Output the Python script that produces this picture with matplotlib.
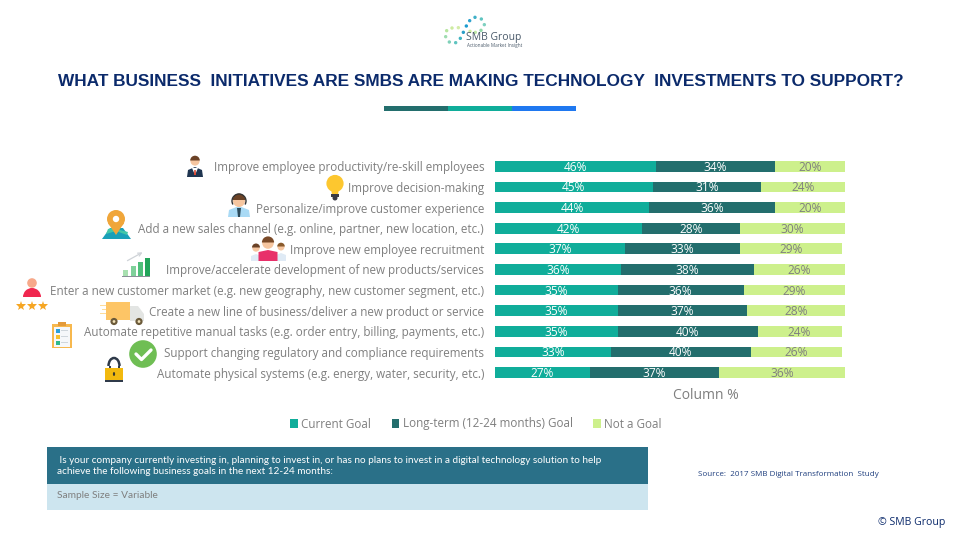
import matplotlib
matplotlib.use("Agg")
import matplotlib.pyplot as plt
from matplotlib.patches import Rectangle, Circle, Polygon, Wedge, Ellipse, Arc

categories = [
    "Improve employee productivity/re-skill employees",
    "Improve decision-making",
    "Personalize/improve customer experience",
    "Add a new sales channel (e.g. online, partner, new location, etc.)",
    "Improve new employee recruitment",
    "Improve/accelerate development of new products/services",
    "Enter a new customer market (e.g. new geography, new customer segment, etc.)",
    "Create a new line of business/deliver a new product or service",
    "Automate repetitive manual tasks (e.g. order entry, billing, payments, etc.)",
    "Support changing regulatory and compliance requirements",
    "Automate physical systems (e.g. energy, water, security, etc.)",
]
current_goal = [46, 45, 44, 42, 37, 36, 35, 35, 35, 33, 27]
long_term_goal = [34, 31, 36, 28, 33, 38, 36, 37, 40, 40, 37]
not_a_goal = [20, 24, 20, 30, 29, 26, 29, 28, 24, 26, 36]
series_names = ["Current Goal", "Long-term (12-24 months) Goal", "Not a Goal"]

TITLE = "WHAT BUSINESS  INITIATIVES ARE SMBS ARE MAKING TECHNOLOGY  INVESTMENTS TO SUPPORT?"
QUESTION = (" Is your company currently investing in, planning to invest in, or has no plans to invest in a digital technology solution to help\n"
            "achieve the following business goals in the next 12-24 months:")

C1, C2, C3 = "#10ad9a", "#236e6d", "#cdf08c"
GREY = "#7f7f7f"
NAVY = "#0b2a6b"
FONT = "Open Sans"

W, H = 960, 540
fig = plt.figure(figsize=(9.6, 5.4), dpi=100, facecolor="white")

# overlay in pixel coordinates for the slide decoration
ov = fig.add_axes([0, 0, 1, 1], zorder=0)
ov.set_xlim(0, W); ov.set_ylim(H, 0); ov.axis("off")

# chart axes
top, bottom = 156.0, 382.9
ax = fig.add_axes([495 / W, 1 - bottom / H, 350 / W, (bottom - top) / H], zorder=1)
ax.patch.set_alpha(0)
ax.set_xlim(0, 100)
ax.set_ylim(10.5, -0.5)
for s in ax.spines.values():
    s.set_visible(False)
ypos = list(range(len(categories)))
left = [0] * len(categories)
bars = []
for vals, col, name, tc in zip((current_goal, long_term_goal, not_a_goal), (C1, C2, C3), series_names,
                               ("white", "white", GREY)):
    b = ax.barh(ypos, vals, left=left, height=0.52, color=col, label=name)
    bars.append(b)
    for y, v, l in zip(ypos, vals, left):
        ax.text(l + v / 2, y + 0.05, f"{v}%", ha="center", va="center", color=tc,
                fontsize=8.6, family=FONT)
    left = [l + v for l, v in zip(left, vals)]
ax.set_yticks(ypos, categories)
ax.set_xticks([])
ax.tick_params(axis="y", length=0, pad=7.8, labelcolor=GREY, labelsize=8.42)
for t in ax.get_yticklabels():
    t.set_family(FONT)
ax.set_xlabel("Column %", color=GREY, fontsize=10, family=FONT, labelpad=5)
ax.xaxis.set_label_coords(211 / 350, -12.5 / (bottom - top), transform=ax.transAxes)
ax.xaxis.label.set_va("center")

leg = ax.legend(handles=[b[0] for b in bars], labels=series_names, ncols=3, frameon=False,
                loc="center left", bbox_to_anchor=(284.5 / W, 1 - 424 / H),
                bbox_transform=fig.transFigure, prop={"family": FONT, "size": 8.4},
                handlelength=0.64, handleheight=0.9, handletextpad=0.3, columnspacing=1.76,
                borderpad=0, labelcolor=GREY)

# title, logo, rule
ov.text(481, 81, TITLE, ha="center", va="center", fontsize=12.4, fontweight="bold",
        family="Liberation Sans", color=NAVY)
for x0, col in zip((384, 448, 512), (C2, C1, "#1f78f0")):
    ov.add_patch(Rectangle((x0, 106), 64, 4.5, color=col, lw=0))
logo_dots = [(285, 22, "#3fb0c8"), (304, 27, "#5fc4c0"), (269, 32, "#2ea3cf"), (313, 44, "#7fd0c0"),
             (259, 48, "#1d9cd0"), (303, 61, "#8fd8a8"), (250, 67, "#2a9fc8"), (200, 62, "#b8e6a0"),
             (216, 54, "#cdeba0"), (235, 53, "#d4eca8"), (197, 80, "#9fdcb0"), (241, 85, "#3fb4c0"),
             (208, 96, "#7fd0b8"), (227, 98, "#5fc4c0"), (270, 64, "#cdeba0"), (286, 67, "#c0e8a8")]
for x, y, c in logo_dots:
    ov.add_patch(Circle((380 + x / 3, 10 + y / 3), 1.7, color=c, lw=0))
ov.text(466, 37.5, "SMB Group", fontsize=7.5, color="#4a5a6a", family=FONT, va="center")
ov.text(467, 46, "Actionable Market Insight", fontsize=3.3, color="#4a5a6a", family=FONT, va="center")

# footer
ov.add_patch(Rectangle((47, 447), 601, 37, color="#2a7088", lw=0))
ov.add_patch(Rectangle((47, 484), 601, 26, color="#cde5ef", lw=0))
ov.text(57, 466, QUESTION, color="white", fontsize=7.18, family="Lato", va="center", linespacing=1.35)
ov.text(57, 495, "Sample Size = Variable", color=GREY, fontsize=7.3, family="Lato", va="center")
ov.text(698, 474, "Source:  2017 SMB Digital Transformation  Study", color="#1f3f7f", fontsize=5.8,
        family=FONT, va="center")
ov.text(945, 523, "© SMB Group", color=NAVY, fontsize=7.6, family=FONT, va="center", ha="right")

# helpers for the small icons
def circ(x, y, r, c): ov.add_patch(Circle((x, y), r, color=c, lw=0))
def rect(x, y, w, h, c): ov.add_patch(Rectangle((x, y), w, h, color=c, lw=0))
def poly(pts, c): ov.add_patch(Polygon(pts, closed=True, color=c, lw=0))
SKIN, HAIR = "#f6c6a0", "#6b4226"

# 1 businessman
poly([(187, 177), (188, 170), (195, 167), (202, 170), (203, 177)], "#1f3550")
poly([(192, 168), (198, 168), (195, 175)], "white")
poly([(194.3, 170), (195.7, 170), (196, 175), (194, 175)], "#d9412b")
circ(195, 161, 4.6, SKIN)
ov.add_patch(Wedge((195, 160.5), 4.8, 180, 360, color=HAIR, lw=0))

# 2 bulb
circ(335, 183.5, 8.6, "#fdc72f")
poly([(331, 188), (339, 188), (338, 195), (332, 195)], "#fdc72f")
rect(331, 194, 8, 3, "#3a3a44"); circ(335, 198, 2.5, "#3a3a44")

# 3 support agent
poly([(228, 217), (229, 210), (239, 206), (249, 210), (250, 217)], "#a9daf5")
poly([(237, 208), (241, 208), (240, 217), (238, 217)], "#2c4a5a")
circ(239, 201, 6, SKIN)
ov.add_patch(Wedge((239, 200), 6.4, 180, 360, color=HAIR, lw=0))
ov.add_patch(Arc((239, 201), 14, 14, theta1=150, theta2=390, color="#333333", lw=1))

# 4 map pin
poly([(102, 239), (110, 228), (123, 228), (131, 239)], "#1aa0b8")
poly([(106, 234), (116, 231), (127, 235), (128, 232), (112, 228), (108, 229)], "#43c7a8")
circ(116, 219, 9, "#f0a63a")
poly([(108, 223), (124, 223), (116, 235)], "#f0a63a")
circ(116, 219, 3.2, "white")

# 5 three people
for x0, head_y, r, top_y, body, hair, x_half in ((256, 248, 3.7, 254, "#dfeaf5", "#6b4226", 5),
                                                  (281, 247, 3.5, 253, "#dfeaf5", "#8a5a2b", 5),
                                                  (268, 243, 5.8, 250, "#e8306a", "#7a4a28", 9.5)):
    poly([(x0 - x_half, 261), (x0 - x_half, top_y + 2), (x0, top_y), (x0 + x_half, top_y + 2), (x0 + x_half, 261)], body)
    circ(x0, head_y, r, SKIN)
    ov.add_patch(Wedge((x0, head_y - 0.5), r + 0.3, 180, 360, color=hair, lw=0))

# 6 growth chart
for x0, h, c in ((123, 6, "#a8e0b0"), (130.5, 10, "#7fd09a"), (138, 14, "#4fbf7a"), (144.5, 18, "#22a55a")):
    rect(x0, 276 - h, 5, h, c)
rect(122, 276, 28, 1.2, "#8a8f98")
ov.annotate("", xy=(145, 251), xytext=(125, 262),
            arrowprops=dict(arrowstyle="->", color="#cfd3d8", lw=0.9, mutation_scale=6))

# 7 customer with stars
ov.add_patch(Wedge((32, 297), 9, 180, 360, color="#f0274f", lw=0))
circ(32, 283, 4.8, "#f7a98a")
for x0 in (20.5, 32, 43):
    ov.plot([x0], [306], marker="*", ms=7.5, color="#f6a623", mew=0)

# 8 delivery truck
rect(106, 302, 24, 18, "#fdc566")
poly([(130, 306), (138, 306), (144, 314), (144, 321), (130, 321)], "#e3e5e3")
rect(100, 305, 6, 1, "#fddc9a"); rect(102, 309, 4, 1, "#fddc9a"); rect(100, 313, 6, 1, "#fddc9a")
for x0 in (114, 139):
    circ(x0, 321.5, 3.6, "#6b5a3a"); circ(x0, 321.5, 1.4, "#f2e2b8")

# 9 clipboard
rect(52, 324, 20, 24, "#f7b84e"); rect(54, 326.5, 16, 20, "#f5f7fa"); rect(58, 322, 8, 3.5, "#e39a3a")
for y0, c in ((328.5, "#2a9fd8"), (334.5, "#f6c02c"), (340.5, "#2eb88a")):
    rect(55.5, y0, 4, 4, c); rect(61, y0 + 1.2, 7, 1, "#cfd6dc")

# 10 check mark
circ(143, 354, 13.8, "#6fbe54")
ov.plot([136, 141.5, 151], [354, 359.5, 350], color="white", lw=2.4, solid_capstyle="round")

# 11 padlock
ov.add_patch(Arc((114, 366), 11, 16, theta1=180, theta2=360, color="#2f3a4a", lw=1.8))
rect(108.5, 366, 2, 3, "#2f3a4a"); rect(117.5, 366, 2, 3, "#2f3a4a")
rect(105, 368, 18, 11.5, "#f2b90f"); rect(105, 379.5, 18, 2.5, "#2f3a4a")
ov.add_patch(Ellipse((114, 374), 2.2, 4, color="#3a3a30", lw=0))

fig.savefig("out.png", dpi=100, facecolor="white")
